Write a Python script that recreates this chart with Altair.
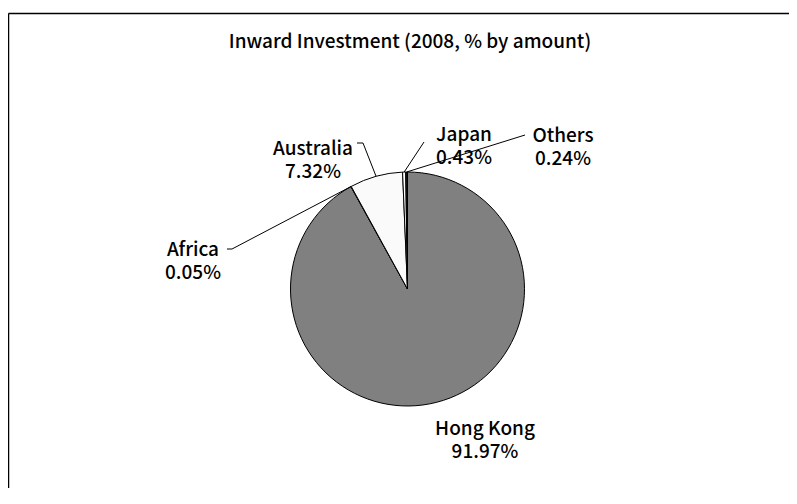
import math
import altair as alt
import pandas as pd

# ---- data ----
categories = ["Hong Kong", "Africa", "Australia", "Japan", "Others"]
shares = [91.97, 0.05, 7.32, 0.43, 0.24]
pct_labels = ["91.97%", "0.05%", "7.32%", "0.43%", "0.24%"]
title_text = "Inward Investment (2008, % by amount)"

# ---- styling / layout ----
fills = ["#808080", "#bfbfbf", "#fafafa", "#ffffff", "#1a1a1a"]
W, H = 781, 480          # plot area (page margin 8px)
OFF = 8                  # canvas -> plot offset
CX, CY, R = 407.5 - OFF, 289 - OFF, 117
FONT = "Noto Sans CJK JP"

label_cx = [485, 193, 313, 464, 563]
label_cy = [429, 250, 149, 135, 136]
leader_pts = {
    "Africa": [(227, 249), (232, 249)],
    "Australia": [(357, 143), (363, 143)],
    "Japan": [(424, 142)],
    "Others": [(525, 135)],
}

total = sum(shares)
df = pd.DataFrame({
    "cat": categories,
    "share": shares,
    "idx": list(range(len(categories))),
    "label": [f"{c}\n{p}" for c, p in zip(categories, pct_labels)],
    "lx": [x - OFF for x in label_cx],
    "ly": [y - OFF for y in label_cy],
})

# leader line segments: label side points (layout) + slice edge point (from data)
segs = []
cum = 0.0
for c, s in zip(categories, shares):
    mid = (cum + s / 2) / total * 2 * math.pi
    cum += s
    if c not in leader_pts:
        continue
    ex, ey = CX + R * math.sin(mid), CY - R * math.cos(mid)
    pts = [(x - OFF, y - OFF) for x, y in leader_pts[c]] + [(ex, ey)]
    for (x1, y1), (x2, y2) in zip(pts[:-1], pts[1:]):
        segs.append({"x": x1, "y": y1, "x2": x2, "y2": y2})
seg_df = pd.DataFrame(segs)

xs = alt.Scale(domain=[0, W], range=[0, W])
ys = alt.Scale(domain=[0, H], range=[0, H])

pie = alt.Chart(df).mark_arc(
    outerRadius=R, stroke="black", strokeWidth=1, x=CX, y=CY
).encode(
    theta=alt.Theta("share:Q", stack=True),
    order=alt.Order("idx:Q"),
    color=alt.Color("cat:N", scale=alt.Scale(domain=categories, range=fills), legend=None),
)

lines = alt.Chart(seg_df).mark_rule(color="black", strokeWidth=1).encode(
    x=alt.X("x:Q", scale=xs, axis=None),
    y=alt.Y("y:Q", scale=ys, axis=None),
    x2="x2:Q",
    y2="y2:Q",
)

labels = alt.Chart(df).mark_text(
    font=FONT, fontSize=19, fontWeight=500, lineBreak="\n", lineHeight=23,
    align="center", baseline="middle", color="black"
).encode(
    x=alt.X("lx:Q", scale=xs, axis=None),
    y=alt.Y("ly:Q", scale=ys, axis=None),
    text="label:N",
)

title = alt.Chart(pd.DataFrame({"t": [title_text], "x": [410 - OFF], "y": [42 - OFF]})).mark_text(
    font=FONT, fontSize=19, fontWeight=500, align="center", baseline="middle", color="black"
).encode(
    x=alt.X("x:Q", scale=xs, axis=None),
    y=alt.Y("y:Q", scale=ys, axis=None),
    text="t:N",
)

border = alt.Chart(pd.DataFrame({
    "x": [0.5, 0.5], "y": [13.5 - OFF, 13.5 - OFF], "x2": [W, 0.5], "y2": [13.5 - OFF, H]
})).mark_rule(color="black", strokeWidth=1.5).encode(
    x=alt.X("x:Q", scale=xs, axis=None),
    y=alt.Y("y:Q", scale=ys, axis=None),
    x2="x2:Q",
    y2="y2:Q",
)

chart = alt.layer(border, pie, lines, labels, title).properties(
    width=W, height=H, padding=0, autosize=alt.AutoSizeParams(type="none"),
    background="white",
).configure_view(stroke=None)

chart.save("out.html", embed_options={"renderer": "svg", "actions": False})
